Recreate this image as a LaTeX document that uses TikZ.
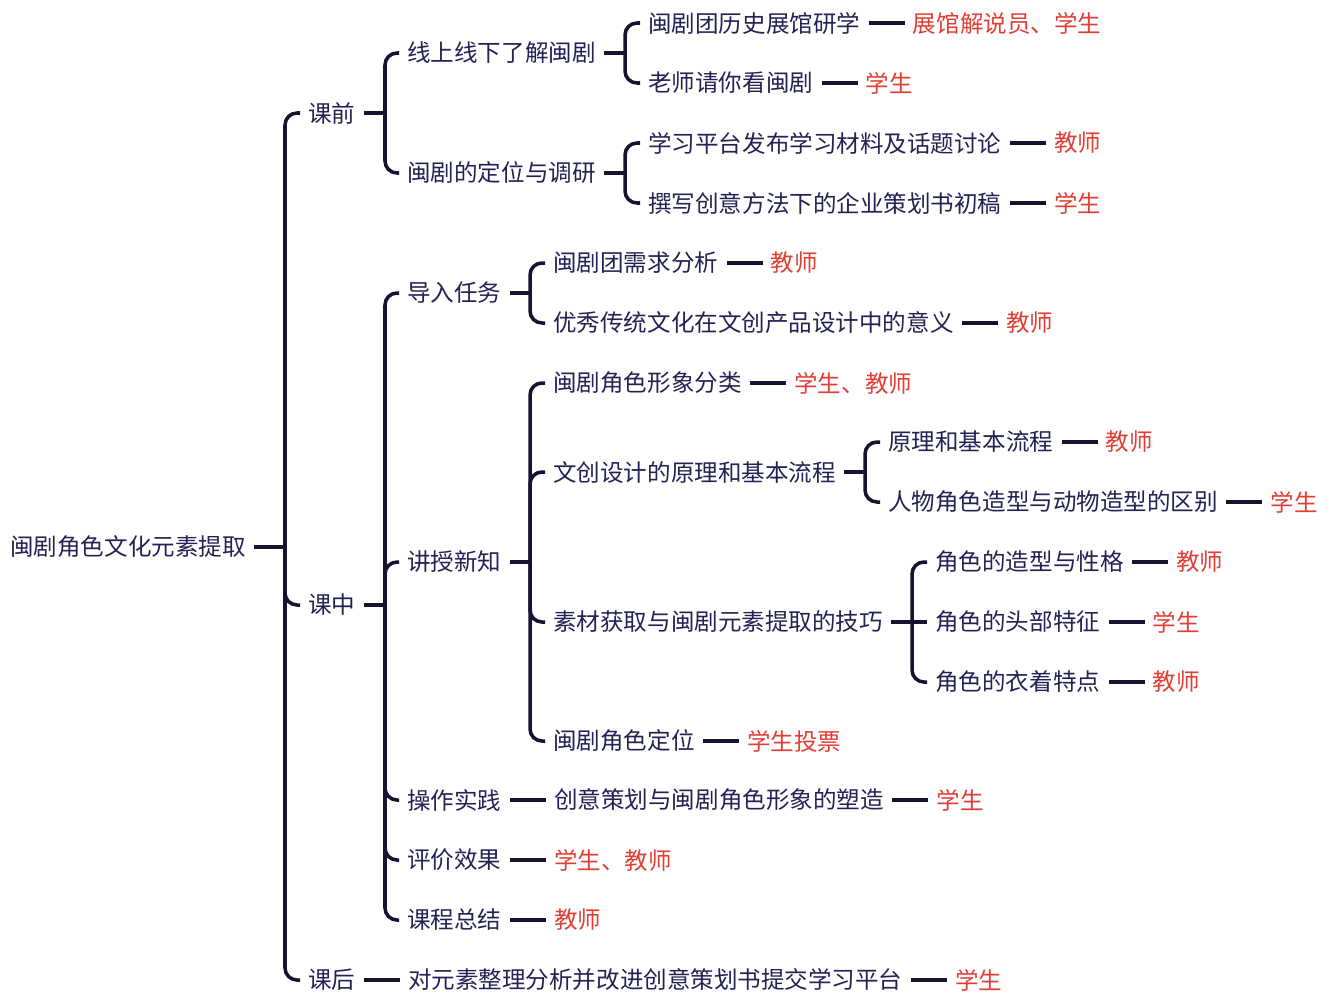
\documentclass[tikz,border=0pt]{standalone}
\usepackage{fontspec}
\newfontfamily\cjk{Noto Sans CJK SC}
\usetikzlibrary{positioning}
\definecolor{MapInk}{RGB}{34,34,84}
\definecolor{MapLine}{RGB}{20,20,48}
\definecolor{MapRed}{RGB}{226,62,52}

% parent, bracket x, children
\newcommand{\fork}[3]{%
  \coordinate (#1-bx) at (#2,0);
  \draw[link] (#1.east) -- (#1.east -| #1-bx);
  \foreach \c in {#3}{
    \draw[link, rounded corners=0.24cm] (#1.east -| #1-bx) |- (\c.west);
  }
}

\begin{document}
\begin{tikzpicture}[x=0.02cm, y=-0.02cm,
    topic/.style={font=\cjk\fontsize{13.4pt}{16pt}\selectfont, text=MapInk,
                  inner xsep=0.16cm, inner ysep=1pt, anchor=west},
    role/.style={topic, text=MapRed},
    link/.style={draw=MapLine, line width=2pt}
  ]
  \useasboundingbox (0,0) rectangle (1335,998);

  \node[topic] (root) at (2,547) {闽剧角色文化元素提取};

  \node[topic] (kq) at (300,113) {课前};
  \node[topic] (kz) at (300,605) {课中};
  \node[topic] (kh) at (300,980) {课后};

  % 课前
  \node[topic] (xs) at (399,53)  {线上线下了解闽剧};
  \node[topic] (dw) at (399,173) {闽剧的定位与调研};
  \node[topic] (zg) at (640,23)  {闽剧团历史展馆研学};
  \node[topic] (ls) at (640,83)  {老师请你看闽剧};
  \node[topic] (pt) at (640,143) {学习平台发布学习材料及话题讨论};
  \node[topic] (zx) at (640,203) {撰写创意方法下的企业策划书初稿};
  \node[role, right=0.72cm of zg] (zg-r) {展馆解说员、学生};
  \node[role, right=0.72cm of ls] (ls-r) {学生};
  \node[role, right=0.72cm of pt] (pt-r) {教师};
  \node[role, right=0.72cm of zx] (zx-r) {学生};

  % 课中
  \node[topic] (dr) at (399,293) {导入任务};
  \node[topic] (js) at (399,562) {讲授新知};
  \node[topic] (cz) at (399,800) {操作实践};
  \node[topic] (pj) at (399,860) {评价效果};
  \node[topic] (zj) at (399,920) {课程总结};

  \node[topic] (xq) at (545,263) {闽剧团需求分析};
  \node[topic] (yx) at (545,323) {优秀传统文化在文创产品设计中的意义};
  \node[role, right=0.72cm of xq] (xq-r) {教师};
  \node[role, right=0.72cm of yx] (yx-r) {教师};

  \node[topic] (fl)   at (545,383) {闽剧角色形象分类};
  \node[topic] (yl)   at (545,472) {文创设计的原理和基本流程};
  \node[topic] (sc)   at (545,622) {素材获取与闽剧元素提取的技巧};
  \node[topic] (jsdw) at (545,741) {闽剧角色定位};
  \node[role, right=0.72cm of fl]   (fl-r)   {学生、教师};
  \node[role, right=0.72cm of jsdw] (jsdw-r) {学生投票};

  \node[topic] (lc) at (880,442) {原理和基本流程};
  \node[topic] (qb) at (880,502) {人物角色造型与动物造型的区别};
  \node[role, right=0.72cm of lc] (lc-r) {教师};
  \node[role, right=0.72cm of qb] (qb-r) {学生};

  \node[topic] (xg) at (927,562) {角色的造型与性格};
  \node[topic] (tb) at (927,622) {角色的头部特征};
  \node[topic] (yz) at (927,682) {角色的衣着特点};
  \node[role, right=0.72cm of xg] (xg-r) {教师};
  \node[role, right=0.72cm of tb] (tb-r) {学生};
  \node[role, right=0.72cm of yz] (yz-r) {教师};

  \node[topic, right=0.72cm of cz] (ch)   {创意策划与闽剧角色形象的塑造};
  \node[role,  right=0.72cm of ch] (ch-r) {学生};
  \node[role,  right=0.72cm of pj] (pj-r) {学生、教师};
  \node[role,  right=0.72cm of zj] (zj-r) {教师};

  % 课后
  \node[topic, right=0.72cm of kh] (gl)   {对元素整理分析并改进创意策划书提交学习平台};
  \node[role,  right=0.72cm of gl] (gl-r) {学生};

  % brackets
  \fork{root}{285}{kq, kz, kh}
  \fork{kq}{385}{xs, dw}
  \fork{xs}{625}{zg, ls}
  \fork{dw}{625}{pt, zx}
  \fork{kz}{385}{dr, js, cz, pj, zj}
  \fork{dr}{530}{xq, yx}
  \fork{js}{530}{fl, yl, sc, jsdw}
  \fork{yl}{865}{lc, qb}
  \fork{sc}{912}{xg, yz}
  \draw[link] (sc.east) -- (tb.west);

  % straight links
  \foreach \a/\b in {zg/zg-r, ls/ls-r, pt/pt-r, zx/zx-r, xq/xq-r, yx/yx-r,
                     fl/fl-r, jsdw/jsdw-r, lc/lc-r, qb/qb-r, xg/xg-r, tb/tb-r,
                     yz/yz-r, cz/ch, ch/ch-r, pj/pj-r, zj/zj-r, kh/gl, gl/gl-r}
    \draw[link] (\a.east) -- (\b.west);
\end{tikzpicture}
\end{document}
